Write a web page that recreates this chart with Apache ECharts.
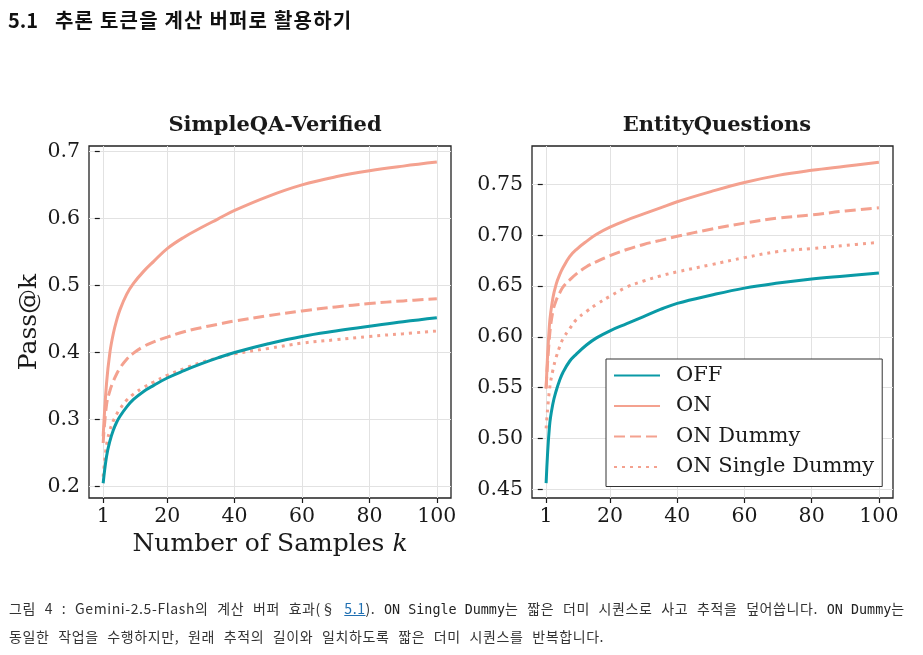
<!DOCTYPE html>
<html>
<head>
<meta charset="utf-8">
<script src="https://cdn.jsdelivr.net/npm/echarts@6/dist/echarts.min.js"></script>
<style>
  html, body { margin: 0; padding: 0; background: #fff; }
  #page { position: relative; width: 923px; height: 655px; overflow: hidden; }
  #chart { position: absolute; left: 0; top: 0; width: 923px; height: 655px; }
  .heading { position: absolute; left: 8px; top: 5px; font: bold 20px 'Noto Sans CJK KR', 'Noto Sans', sans-serif; color: #111; white-space: nowrap; letter-spacing: 1.2px; }
  .heading .num { display: inline-block; width: 47px; letter-spacing: 0; }
  .caption { position: absolute; left: 9px; font: 14px 'Noto Sans CJK KR', 'Noto Sans', sans-serif; color: #333; white-space: nowrap; word-spacing: 5px; letter-spacing: 0.6px; }
  .caption code { font: 13.4px 'DejaVu Sans Mono', monospace; color: #222; word-spacing: 0; letter-spacing: 0; }
  .caption a { color: #1f6fb2; text-decoration: underline; }
</style>
</head>
<body>
<div id="page">
  <div id="chart"></div>
  <div class="heading"><span class="num">5.1</span>추론 토큰을 계산 버퍼로 활용하기</div>
  <div class="caption" style="top:598px">그림 4 : Gemini-2.5-Flash의 계산 버퍼 효과(§ <a>5.1</a>). <code>ON Single Dummy</code>는 짧은 더미 시퀀스로 사고 추적을 덮어씁니다. <code>ON Dummy</code>는</div>
  <div class="caption" style="top:626px">동일한 작업을 수행하지만, 원래 추적의 길이와 일치하도록 짧은 더미 시퀀스를 반복합니다.</div>
</div>
<script>
// 샘플 수 k
const kValues = [1, 2, 3, 4, 5, 6, 8, 10, 13, 16, 20, 25, 30, 35, 40, 50, 60, 70, 80, 90, 100];

// SimpleQA-Verified
const simpleOff = [0.205, 0.245, 0.268, 0.284, 0.296, 0.305, 0.319, 0.330, 0.342, 0.351, 0.362, 0.373, 0.383, 0.392, 0.400, 0.413, 0.424, 0.432, 0.439, 0.446, 0.452];
const simpleOn = [0.275, 0.354, 0.400, 0.428, 0.448, 0.464, 0.487, 0.503, 0.521, 0.536, 0.555, 0.572, 0.586, 0.599, 0.612, 0.633, 0.650, 0.662, 0.671, 0.678, 0.684];
const simpleDummy = [0.265, 0.322, 0.343, 0.357, 0.368, 0.377, 0.390, 0.399, 0.409, 0.416, 0.423, 0.431, 0.437, 0.442, 0.447, 0.455, 0.462, 0.468, 0.473, 0.477, 0.480];
const simpleSingle = [0.215, 0.262, 0.284, 0.298, 0.308, 0.316, 0.329, 0.338, 0.348, 0.356, 0.366, 0.376, 0.385, 0.392, 0.398, 0.406, 0.414, 0.419, 0.424, 0.428, 0.432];

// EntityQuestions
const entityOff = [0.456, 0.512, 0.534, 0.547, 0.557, 0.565, 0.576, 0.583, 0.592, 0.599, 0.606, 0.613, 0.620, 0.627, 0.633, 0.641, 0.648, 0.653, 0.657, 0.660, 0.663];
const entityOn = [0.549, 0.612, 0.638, 0.652, 0.661, 0.668, 0.679, 0.686, 0.694, 0.701, 0.708, 0.715, 0.721, 0.727, 0.733, 0.743, 0.752, 0.759, 0.764, 0.768, 0.772];
const entityDummy = [0.550, 0.600, 0.625, 0.636, 0.643, 0.649, 0.656, 0.662, 0.669, 0.674, 0.680, 0.686, 0.691, 0.695, 0.699, 0.706, 0.712, 0.717, 0.720, 0.724, 0.727];
const entitySingle = [0.510, 0.548, 0.567, 0.580, 0.590, 0.598, 0.608, 0.617, 0.625, 0.632, 0.640, 0.649, 0.655, 0.660, 0.664, 0.671, 0.678, 0.684, 0.687, 0.690, 0.693];

// 눈금
const xTicks = [1, 20, 40, 60, 80, 100];
const simpleYTicks = [0.2, 0.3, 0.4, 0.5, 0.6, 0.7];
const entityYTicks = [0.45, 0.50, 0.55, 0.60, 0.65, 0.70, 0.75];

const seriesNames = ['OFF', 'ON', 'ON Dummy', 'ON Single Dummy'];

const TEAL = '#0a9aa6';
const SALMON = '#f4a18f';
const SERIF = "'DejaVu Serif', serif";
const INK = '#1a1a1a';

const styles = [
  { color: TEAL, type: 'solid' },
  { color: SALMON, type: 'solid' },
  { color: SALMON, type: [11, 5] },
  { color: SALMON, type: [3, 5] }
];

const toPairs = (vals) => kValues.map((k, i) => [k, vals[i]]);

const makeSeries = (gridIndex, valueSets) => valueSets.map((vals, i) => ({
  name: seriesNames[i],
  type: 'line',
  xAxisIndex: gridIndex,
  yAxisIndex: gridIndex,
  data: toPairs(vals),
  smooth: 0.4,
  symbol: 'none',
  z: 10 - i,
  lineStyle: { color: styles[i].color, type: styles[i].type, width: 3, cap: 'butt' },
  itemStyle: { color: styles[i].color }
}));

const xAxisBase = (gridIndex, showName) => ({
  type: 'value',
  gridIndex,
  min: -3.2,
  max: 104.2,
  axisLine: { show: false },
  axisTick: { show: true, length: 5, customValues: xTicks, lineStyle: { color: INK, width: 1.2 } },
  axisLabel: { customValues: xTicks, margin: 8, fontFamily: SERIF, fontSize: 20.5, color: INK },
  splitLine: { show: true, lineStyle: { color: '#e2e2e2', width: 1 } },
  name: showName ? 'Number of Samples {i|k}' : '',
  nameLocation: 'middle',
  nameGap: 33,
  nameTextStyle: {
    fontFamily: SERIF, fontSize: 25, color: INK,
    rich: { i: { fontFamily: SERIF, fontSize: 25, fontStyle: 'italic', color: INK } }
  }
});

const yAxisBase = (gridIndex, min, max, ticks, digits, name) => ({
  type: 'value',
  gridIndex,
  min,
  max,
  axisLine: { show: false },
  axisTick: { show: true, length: 5, customValues: ticks, lineStyle: { color: INK, width: 1.2 } },
  axisLabel: {
    customValues: ticks, margin: 9, fontFamily: SERIF, fontSize: 20.5, color: INK,
    formatter: (v) => v.toFixed(digits)
  },
  splitLine: { show: true, lineStyle: { color: '#e2e2e2', width: 1 } },
  name,
  nameLocation: 'middle',
  nameGap: 47,
  nameTextStyle: { fontFamily: SERIF, fontSize: 25, color: INK }
});

const chart = echarts.init(document.getElementById('chart'), null, { renderer: 'canvas' });

const option = {
  animation: false,
  backgroundColor: 'transparent',
  title: [
    {
      text: 'SimpleQA-Verified', left: 270, top: 110, textAlign: 'center',
      textStyle: { fontFamily: SERIF, fontWeight: 'bold', fontSize: 21, color: INK }
    },
    {
      text: 'EntityQuestions', left: 712, top: 110, textAlign: 'center',
      textStyle: { fontFamily: SERIF, fontWeight: 'bold', fontSize: 21, color: INK }
    }
  ],
  legend: {
    data: seriesNames,
    orient: 'vertical',
    left: 606,
    top: 359,
    itemWidth: 46,
    itemHeight: 21,
    itemGap: 9.5,
    padding: [6, 8, 9, 7],
    backgroundColor: '#fff',
    borderColor: '#333',
    borderWidth: 1,
    borderRadius: 0,
    selectedMode: false,
    itemStyle: { opacity: 0 },
    textStyle: { fontFamily: SERIF, fontSize: 21, color: INK, lineHeight: 21, padding: [0, 0, 0, 11] }
  },
  grid: [
    { left: 89, top: 146, width: 362, height: 352, show: true, borderColor: '#222', borderWidth: 1.3, backgroundColor: 'transparent' },
    { left: 532, top: 146, width: 361, height: 352, show: true, borderColor: '#222', borderWidth: 1.3, backgroundColor: 'transparent' }
  ],
  xAxis: [xAxisBase(0, true), xAxisBase(1, false)],
  yAxis: [
    yAxisBase(0, 0.183, 0.708, simpleYTicks, 1, 'Pass@k'),
    yAxisBase(1, 0.4414, 0.7879, entityYTicks, 2, '')
  ],
  series: [
    ...makeSeries(0, [simpleOff, simpleOn, simpleDummy, simpleSingle]),
    ...makeSeries(1, [entityOff, entityOn, entityDummy, entitySingle])
  ]
};

chart.setOption(option);
</script>
</body>
</html>
